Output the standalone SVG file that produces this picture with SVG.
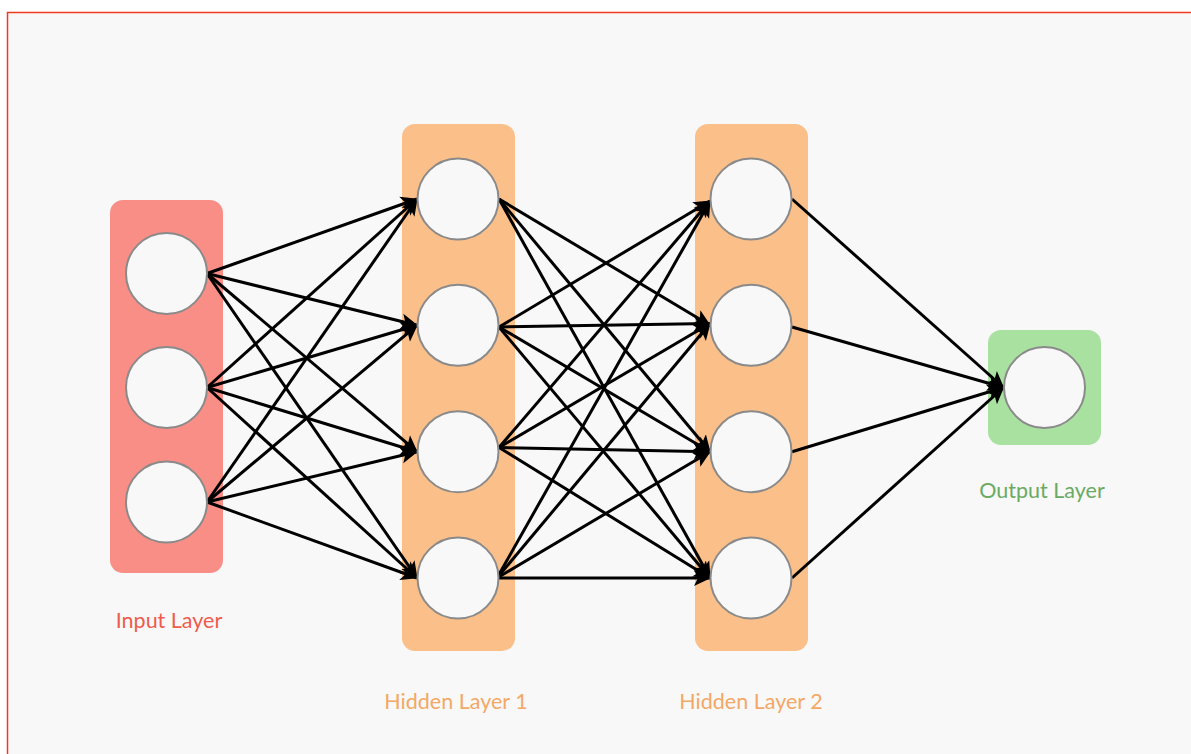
<svg xmlns="http://www.w3.org/2000/svg" width="1191" height="754" viewBox="0 0 1191 754">
  <style>
    .layer-in { fill: #f98e87; }
    .layer-hid { fill: #fbbf8a; }
    .layer-out { fill: #a8e1a0; }
    .neuron { fill: #f8f8f8; stroke: #8a8a8a; stroke-width: 2; }
    .edge { stroke: #000; stroke-width: 3; fill: none; marker-end: url(#arrow); }
    .label { font-family: "Lato", "Noto Sans", sans-serif; font-size: 21.5px; }
  </style>
  <defs>
    <marker id="arrow" markerUnits="userSpaceOnUse" markerWidth="18" markerHeight="18" viewBox="0 0 18 18" refX="16" refY="9" orient="auto">
      <path d="M0,1 L17,9 L0,17 L4,9 Z" fill="#000"/>
    </marker>
  </defs>

  <!-- page -->
  <rect x="0" y="0" width="1191" height="754" fill="#ffffff"/>
  <rect x="7.5" y="12.5" width="1190" height="750" fill="#f8f8f8" stroke="#ee3a1f" stroke-width="1.5"/>

  <!-- layer backgrounds -->
  <rect class="layer-in" x="110" y="200" width="113" height="373" rx="13"/>
  <rect class="layer-hid" x="402" y="124" width="113" height="527" rx="13"/>
  <rect class="layer-hid" x="695" y="124" width="113" height="527" rx="13"/>
  <rect class="layer-out" x="988" y="330" width="113" height="115" rx="13"/>

  <!-- connections -->
  <g id="connectors">
    <!-- input -> hidden 1 -->
    <line class="edge" x1="207" y1="273.5" x2="417" y2="199"/>
    <line class="edge" x1="207" y1="273.5" x2="417" y2="325.3"/>
    <line class="edge" x1="207" y1="273.5" x2="417" y2="451.7"/>
    <line class="edge" x1="207" y1="273.5" x2="417" y2="578"/>
    <line class="edge" x1="207" y1="387.5" x2="417" y2="199"/>
    <line class="edge" x1="207" y1="387.5" x2="417" y2="325.3"/>
    <line class="edge" x1="207" y1="387.5" x2="417" y2="451.7"/>
    <line class="edge" x1="207" y1="387.5" x2="417" y2="578"/>
    <line class="edge" x1="207" y1="502" x2="417" y2="199"/>
    <line class="edge" x1="207" y1="502" x2="417" y2="325.3"/>
    <line class="edge" x1="207" y1="502" x2="417" y2="451.7"/>
    <line class="edge" x1="207" y1="502" x2="417" y2="578"/>
    <!-- hidden 1 -> hidden 2 -->
    <line class="edge" x1="499" y1="199" x2="710" y2="325.3"/>
    <line class="edge" x1="499" y1="199" x2="710" y2="451.7"/>
    <line class="edge" x1="499" y1="199" x2="710" y2="578"/>
    <line class="edge" x1="499" y1="327" x2="710" y2="201"/>
    <line class="edge" x1="499" y1="327" x2="710" y2="323.5"/>
    <line class="edge" x1="499" y1="327" x2="710" y2="451.7"/>
    <line class="edge" x1="499" y1="327" x2="710" y2="578"/>
    <line class="edge" x1="499" y1="447.5" x2="710" y2="201"/>
    <line class="edge" x1="499" y1="447.5" x2="710" y2="323.5"/>
    <line class="edge" x1="499" y1="447.5" x2="710" y2="451.7"/>
    <line class="edge" x1="499" y1="447.5" x2="710" y2="578"/>
    <line class="edge" x1="497" y1="578" x2="710" y2="201"/>
    <line class="edge" x1="497" y1="578" x2="710" y2="323.5"/>
    <line class="edge" x1="497" y1="578" x2="710" y2="451.7"/>
    <line class="edge" x1="497" y1="578" x2="710" y2="578"/>
    <!-- hidden 2 -> output -->
    <line class="edge" x1="792" y1="199" x2="1003.5" y2="387.5"/>
    <line class="edge" x1="792" y1="327" x2="1003.5" y2="387.5"/>
    <line class="edge" x1="792" y1="451.7" x2="1003.5" y2="387.5"/>
    <line class="edge" x1="792" y1="578" x2="1003.5" y2="387.5"/>
  </g>

  <!-- input layer -->
  <g id="input-layer">
    <circle id="in1" class="neuron" cx="166.5" cy="273.5" r="40.5"/>
    <circle id="in2" class="neuron" cx="166.5" cy="387.5" r="40.5"/>
    <circle id="in3" class="neuron" cx="166.5" cy="502" r="40.5"/>
    <text class="label" x="169" y="628" text-anchor="middle" fill="#ef5b4d">Input Layer</text>
  </g>

  <!-- hidden layer 1 -->
  <g id="hidden-layer-1">
    <circle id="h1n1" class="neuron" cx="458" cy="199" r="40.5"/>
    <circle id="h1n2" class="neuron" cx="458" cy="325.3" r="40.5"/>
    <circle id="h1n3" class="neuron" cx="458" cy="451.7" r="40.5"/>
    <circle id="h1n4" class="neuron" cx="458" cy="578" r="40.5"/>
    <text class="label" x="456" y="709" text-anchor="middle" fill="#f3a865">Hidden Layer 1</text>
  </g>

  <!-- hidden layer 2 -->
  <g id="hidden-layer-2">
    <circle id="h2n1" class="neuron" cx="751" cy="199" r="40.5"/>
    <circle id="h2n2" class="neuron" cx="751" cy="325.3" r="40.5"/>
    <circle id="h2n3" class="neuron" cx="751" cy="451.7" r="40.5"/>
    <circle id="h2n4" class="neuron" cx="751" cy="578" r="40.5"/>
    <text class="label" x="751" y="709" text-anchor="middle" fill="#f3a865">Hidden Layer 2</text>
  </g>

  <!-- output layer -->
  <g id="output-layer">
    <circle id="out1" class="neuron" cx="1044.5" cy="387.5" r="40.5"/>
    <text class="label" x="1042" y="498" text-anchor="middle" fill="#6aaa63">Output Layer</text>
  </g>
</svg>
